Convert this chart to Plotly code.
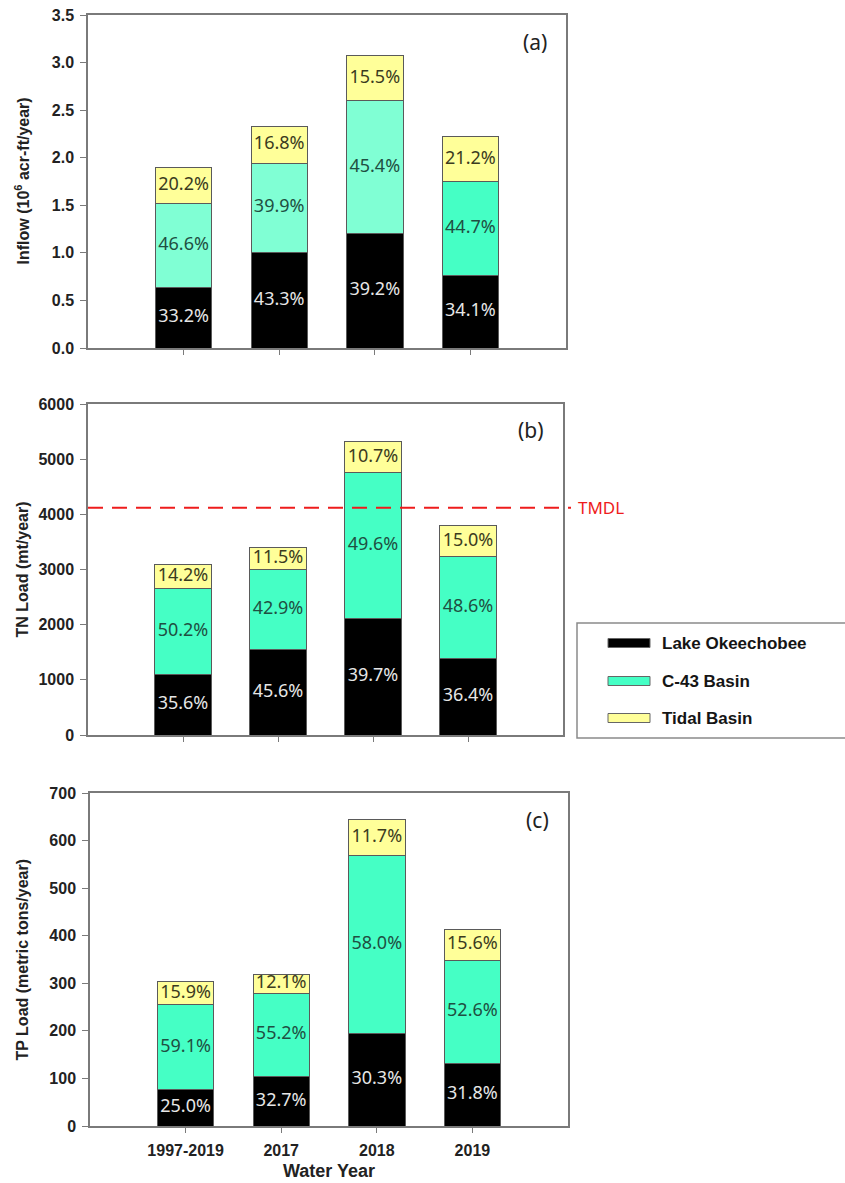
import plotly.graph_objects as go

# Water years shown on the x axis
categories = ["1997-2019", "2017", "2018", "2019"]

# (a) Inflow, 10^6 acre-ft/year: totals and source shares (%)
inflow_total = [1.90, 2.33, 3.07, 2.22]
inflow_lake_pct = [33.2, 43.3, 39.2, 34.1]
inflow_c43_pct = [46.6, 39.9, 45.4, 44.7]
inflow_tidal_pct = [20.2, 16.8, 15.5, 21.2]

# (b) TN load, mt/year
tn_total = [3090, 3400, 5320, 3800]
tn_lake_pct = [35.6, 45.6, 39.7, 36.4]
tn_c43_pct = [50.2, 42.9, 49.6, 48.6]
tn_tidal_pct = [14.2, 11.5, 10.7, 15.0]
tn_tmdl = 4121

# (c) TP load, metric tons/year
tp_total = [303, 318, 644, 413]
tp_lake_pct = [25.0, 32.7, 30.3, 31.8]
tp_c43_pct = [59.1, 55.2, 58.0, 52.6]
tp_tidal_pct = [15.9, 12.1, 11.7, 15.6]

series_names = ["Lake Okeechobee", "C-43 Basin", "Tidal Basin"]

W, H = 845, 1183


def px_x(p):
    return p / W


def px_y(p):
    return 1 - p / H


BLACK = "#000000"
C43 = "#45ffc5"
C43_LIGHT = "#80ffd4"
TIDAL = "#ffff99"
OUTLINE = "#5a5a5a"
AXIS = "#7a7a7a"
TICK_FONT = dict(family="Liberation Sans, Arial", size=16, color="#222222", weight="bold")
PCT_FONT = "Noto Sans, Open Sans, sans-serif"
TEXT_COLORS = ["#e6e6e6", "#1f4f42", "#3b3b1e"]

panels = [
    dict(letter="(a)", total=inflow_total,
         pcts=[inflow_lake_pct, inflow_c43_pct, inflow_tidal_pct],
         ymax=3.5, dtick=0.5, fmt=".1f",
         ytitle="Inflow (10<sup>6</sup> acr-ft/year)",
         c43=[C43_LIGHT, C43_LIGHT, C43_LIGHT, C43],
         xdom=(88, 566), ydom=(348, 15)),
    dict(letter="(b)", total=tn_total,
         pcts=[tn_lake_pct, tn_c43_pct, tn_tidal_pct],
         ymax=6000, dtick=1000, fmt="d",
         ytitle="TN Load (mt/year)",
         c43=[C43] * 4,
         xdom=(88, 563), ydom=(735, 404)),
    dict(letter="(c)", total=tp_total,
         pcts=[tp_lake_pct, tp_c43_pct, tp_tidal_pct],
         ymax=700, dtick=100, fmt="d",
         ytitle="TP Load (metric tons/year)",
         c43=[C43] * 4,
         xdom=(90, 568), ydom=(1126, 793)),
]

xpos = list(range(len(categories)))
fig = go.Figure()
layout = dict(
    width=W, height=H, margin=dict(l=0, r=0, t=0, b=0, autoexpand=False),
    paper_bgcolor="white", plot_bgcolor="white",
    barmode="stack", bargap=0.41, showlegend=False,
    annotations=[], shapes=[],
)

for i, p in enumerate(panels):
    n = i + 1
    sfx = "" if n == 1 else str(n)
    xref, yref = "x" + sfx, "y" + sfx
    fills = [[BLACK] * 4, p["c43"], [TIDAL] * 4]

    base = [0.0] * len(categories)
    for s, name in enumerate(series_names):
        seg = [t * pc / 100 for t, pc in zip(p["total"], p["pcts"][s])]
        fig.add_trace(go.Bar(
            x=xpos, y=seg, name=name, xaxis=xref, yaxis=yref,
            marker=dict(color=fills[s], line=dict(color=OUTLINE, width=1)),
            width=0.59, legendgroup=name, showlegend=(n == 1),
        ))
        mid = [b + v / 2 for b, v in zip(base, seg)]
        fig.add_trace(go.Scatter(
            x=xpos, y=mid, mode="text", xaxis=xref, yaxis=yref,
            text=[f"{v:.1f}%" for v in p["pcts"][s]],
            textfont=dict(family=PCT_FONT, size=18, color=TEXT_COLORS[s]),
            hoverinfo="skip", showlegend=False,
        ))
        base = [b + v for b, v in zip(base, seg)]

    xd = [px_x(p["xdom"][0]), px_x(p["xdom"][1])]
    yd = [px_y(p["ydom"][0]), px_y(p["ydom"][1])]
    is_bottom = n == 3

    xaxis = dict(
        domain=xd, anchor=yref, range=[-1, 4], tickvals=xpos,
        showticklabels=is_bottom, tickfont=TICK_FONT, automargin=False,
        ticks="outside", ticklen=5, tickwidth=1.2, tickcolor=AXIS,
        showline=True, linecolor=AXIS, linewidth=1.5, mirror=True,
        showgrid=False, zeroline=False, ticklabelstandoff=4,
    )
    if is_bottom:
        xaxis["ticktext"] = categories
    layout["xaxis" + sfx] = xaxis
    layout["yaxis" + sfx] = dict(
        domain=yd, anchor=xref, range=[0, p["ymax"]], automargin=False,
        dtick=p["dtick"], tick0=0, tickformat=p["fmt"], tickfont=TICK_FONT,
        ticks="outside", ticklen=6, tickwidth=1.2, tickcolor=AXIS,
        showline=True, linecolor=AXIS, linewidth=1.5, mirror=True,
        showgrid=False, zeroline=False, ticklabelstandoff=3,
    )
    # inward ticks along the top and right frame edges
    layout["xaxis" + str(n + 3)] = dict(
        overlaying=xref, anchor=yref, side="top", range=[-1, 4],
        tickvals=xpos, showticklabels=False, automargin=False,
        ticks="inside", ticklen=5, tickwidth=1.2, tickcolor=AXIS,
        showline=False, showgrid=False, zeroline=False,
    )
    layout["yaxis" + str(n + 3)] = dict(
        overlaying=yref, anchor=xref, side="right", range=[0, p["ymax"]],
        dtick=p["dtick"], tick0=0, showticklabels=False, automargin=False,
        ticks="inside", ticklen=5, tickwidth=1.2, tickcolor=AXIS,
        showline=False, showgrid=False, zeroline=False,
    )

    # y-axis title
    layout["annotations"].append(dict(
        text=p["ytitle"], xref="paper", yref="paper",
        x=px_x(22), y=(yd[0] + yd[1]) / 2, textangle=-90, showarrow=False,
        font=dict(family="Liberation Sans, Arial", size=16, color="#222222", weight="bold"),
        xanchor="center", yanchor="middle",
    ))
    # panel letter
    layout["annotations"].append(dict(
        text=p["letter"], xref=xref + " domain", yref=yref + " domain",
        x=0.965, y=0.92, showarrow=False, xanchor="right", yanchor="middle",
        font=dict(family="Noto Sans, Open Sans", size=21, color="#222222"),
    ))

# TMDL threshold on the TN panel
layout["shapes"].append(dict(
    type="line", xref="paper", yref="y2",
    x0=px_x(88), x1=px_x(571), y0=tn_tmdl, y1=tn_tmdl,
    line=dict(color="#ee1c1c", width=2, dash="15px,9px"),
))
layout["annotations"].append(dict(
    text="TMDL", xref="paper", yref="y2", x=px_x(576), y=tn_tmdl,
    xanchor="left", yanchor="middle", showarrow=False,
    font=dict(family="Noto Sans, Open Sans", size=17, color="#ee1c1c"),
))

# x-axis title
layout["annotations"].append(dict(
    text="Water Year", xref="paper", yref="paper",
    x=px_x(329), y=px_y(1171), showarrow=False, xanchor="center", yanchor="middle",
    font=dict(family="Liberation Sans, Arial", size=18, color="#222222", weight="bold"),
))

# legend box
layout["shapes"].append(dict(
    type="rect", xref="paper", yref="paper",
    x0=px_x(577), x1=px_x(860), y0=px_y(738), y1=px_y(623),
    line=dict(color="#8a8a8a", width=1.5), fillcolor="white", layer="below",
))
legend_fills = [BLACK, C43, TIDAL]
legend_rows = [643, 681, 718]
for name, fill, yy in zip(series_names, legend_fills, legend_rows):
    layout["shapes"].append(dict(
        type="rect", xref="paper", yref="paper",
        x0=px_x(608), x1=px_x(650), y0=px_y(yy + 4.5), y1=px_y(yy - 4.5),
        line=dict(color="#666666", width=1), fillcolor=fill,
    ))
    layout["annotations"].append(dict(
        text=name, xref="paper", yref="paper", x=px_x(660), y=px_y(yy),
        xanchor="left", yanchor="middle", showarrow=False,
        font=dict(family="Liberation Sans, Arial", size=17, color="#151515", weight="bold"),
    ))

fig.update_layout(**layout)
fig.write_html("out.html")
